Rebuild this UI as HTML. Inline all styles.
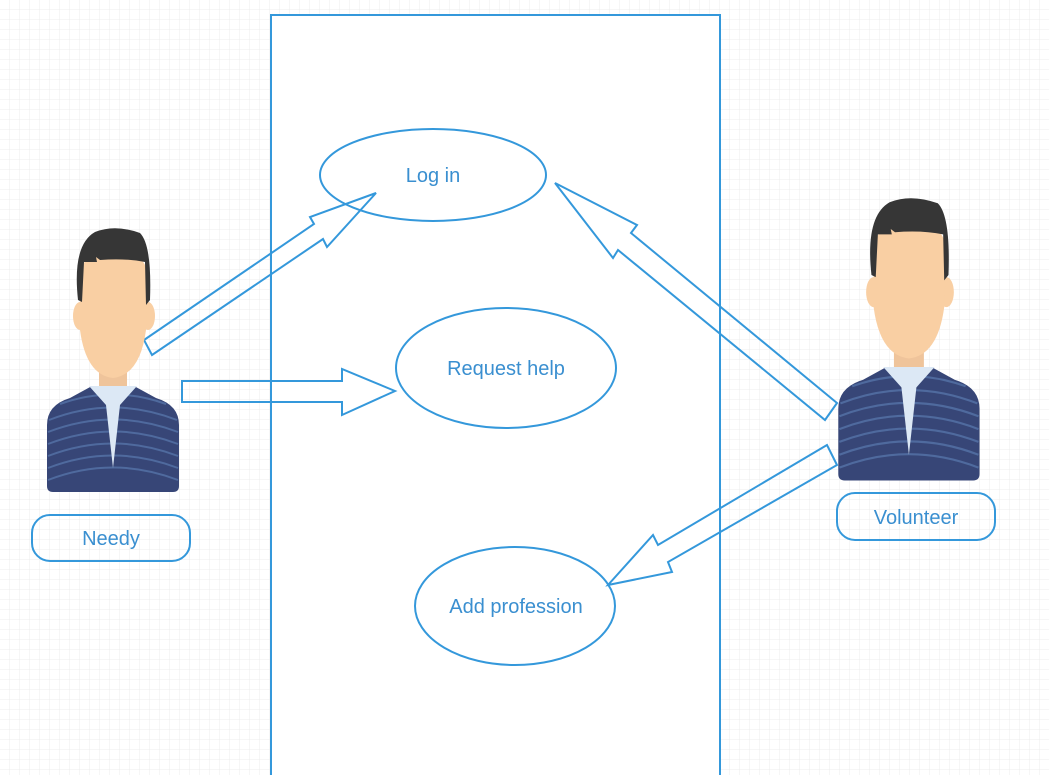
<!DOCTYPE html>
<html><head><meta charset="utf-8"><style>
html,body{margin:0;padding:0;background:#fff;}
svg{display:block;font-family:"Liberation Sans",sans-serif;}
</style></head><body>
<svg width="1049" height="775" viewBox="0 0 1049 775" xmlns="http://www.w3.org/2000/svg">
<defs>
<pattern id="g" width="10" height="10" patternUnits="userSpaceOnUse">
<path d="M10 0V10M0 10H10" stroke="#ececec" stroke-width="1" fill="none"/>
</pattern>
<g id="person">
<rect x="99" y="360" width="28" height="32" fill="#efc49b"/>
<path d="M47,425 Q47,405 70,398 L92,386 L134,386 L156,398 Q179,405 179,425 L179,486 Q179,492 173,492 L53,492 Q47,492 47,486 Z" fill="#374677"/>
<g stroke="#4f6a9e" stroke-width="2" fill="none">
<path d="M49,420 Q113,395 177,420"/><path d="M48,432 Q113,407 178,432"/><path d="M48,444 Q113,419 178,444"/>
<path d="M48,456 Q113,431 178,456"/><path d="M48,468 Q113,443 178,468"/><path d="M48,480 Q113,455 178,480"/>
<path d="M60,404 Q113,385 166,404"/>
</g>
<path d="M89,386 L137,386 L120,405 L113,468 L106,405 Z" fill="#dce8f5"/>
<ellipse cx="80" cy="316" rx="7" ry="14" fill="#f9cfa3"/>
<ellipse cx="148" cy="316" rx="7" ry="14" fill="#f9cfa3"/>
<path d="M80,280 Q80,250 113,250 Q148,250 148,280 L146,330 Q140,375 113,378 Q86,375 80,330 Z" fill="#f9cfa3"/>
<path d="M78,300 Q72,245 95,232 Q115,224 140,233 Q152,245 150,300 L146,305 L145,262 Q125,258 100,260 L96,257 L97,262 L84,262 L82,302 Z" fill="#363636"/>
</g>
</defs>
<rect width="1049" height="775" fill="url(#g)"/>
<rect x="271" y="15" width="449" height="770" fill="#fff" stroke="#3498db" stroke-width="2"/>
<g fill="none" stroke="#3498db" stroke-width="2">
<ellipse cx="433" cy="175" rx="113" ry="46"/>
<ellipse cx="506" cy="368" rx="110" ry="60"/>
<ellipse cx="515" cy="606" rx="100" ry="59"/>
<polygon points="144,340 314,224 310,217 376,193 327,247 323,239 152,355"/>
<polygon points="182,381 342,381 342,369 395,391 342,415 342,402 182,402"/>
<polygon points="837,403 631,233 637,225 555,183 613,258 618,250 825,420"/>
<polygon points="827,445 658,545 653,535 608,585 672,572 668,562 837,465"/>
<rect x="32" y="515" width="158" height="46" rx="18"/>
<rect x="837" y="493" width="158" height="47" rx="18"/>
</g>
<use href="#person"/>
<g transform="translate(788,-46) scale(1.07)"><use href="#person"/></g>
<g fill="#3a8fd0" font-size="20" text-anchor="middle">
<text x="433" y="182">Log in</text>
<text x="506" y="375">Request help</text>
<text x="516" y="613">Add profession</text>
<text x="111" y="545">Needy</text>
<text x="916" y="524">Volunteer</text>
</g>
</svg>
</body></html>
